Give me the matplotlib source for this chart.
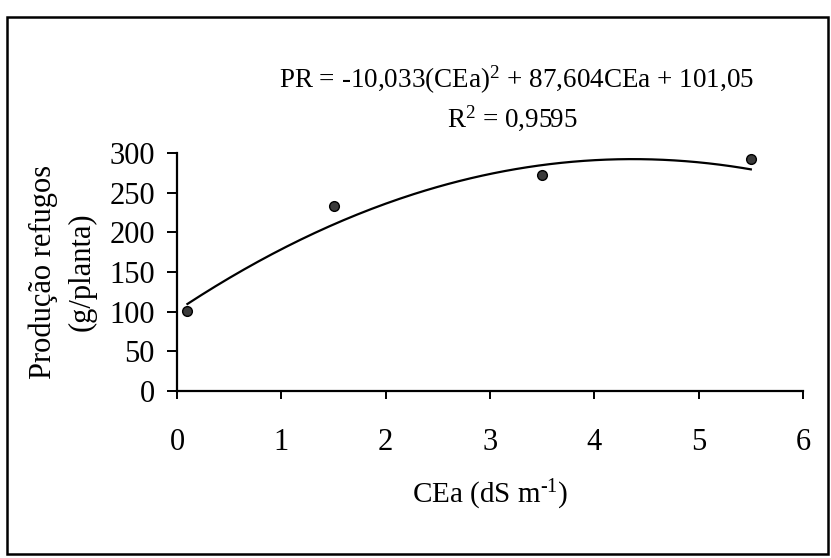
import numpy as np
import matplotlib
matplotlib.use("Agg")
import matplotlib.pyplot as plt
from matplotlib.patches import Rectangle

plt.rcParams["font.family"] = ["Liberation Serif", "DejaVu Serif"]
plt.rcParams["mathtext.fontset"] = "custom"
plt.rcParams["mathtext.rm"] = "Liberation Serif"
plt.rcParams["mathtext.it"] = "Liberation Serif:italic"

# Observed data
cea = [0.1, 1.5, 3.5, 5.5]
producao = [101, 233, 272, 292]

# Quadratic fit coefficients (a*x^2 + b*x + c)
coef_a, coef_b, coef_c = -10.033, 87.604, 101.05

x_ticks = [0, 1, 2, 3, 4, 5, 6]
y_ticks = [0, 50, 100, 150, 200, 250, 300]

fig = plt.figure(figsize=(8.31, 5.58), dpi=100)
fig.patch.set_facecolor("white")

# Outer frame around the whole figure
fig.patches.append(Rectangle((7 / 831, 4 / 558), 821 / 831, 537 / 558,
                             transform=fig.transFigure, fill=False,
                             edgecolor="black", linewidth=1.8))

ax = fig.add_axes([177 / 831, 1 - 391 / 558, 626 / 831, 238 / 558])

xs = np.linspace(min(cea), max(cea), 200)
ax.plot(xs, coef_a * xs**2 + coef_b * xs + coef_c, color="black", lw=1.6, zorder=2)
ax.plot(cea, producao, "o", ms=7, mfc="#3a3a3a", mec="black", mew=1.0, zorder=3)

ax.set_xlim(0, 6)
ax.set_ylim(0, 300)
ax.set_xticks(x_ticks)
ax.set_yticks(y_ticks)
ax.set_xticklabels([str(t) for t in x_ticks])
ax.set_yticklabels([str(t) for t in y_ticks])

for side in ("top", "right"):
    ax.spines[side].set_visible(False)
for side in ("left", "bottom"):
    ax.spines[side].set_linewidth(1.6)

ax.tick_params(axis="y", direction="out", length=7, width=1.4, pad=9, labelsize=22)
ax.tick_params(axis="x", direction="out", length=6, width=1.4, pad=21, labelsize=22)

ax.set_xlabel(r"CEa (dS m$^{\mathregular{‐1}}$)", fontsize=21, labelpad=15)
ax.set_ylabel("Produção refugos\n(g/planta)", fontsize=22, labelpad=9, linespacing=1.45)

fig.text(517 / 831, 1 - 80 / 558,
         r"PR = -10,033(CEa)$^{\mathregular{2}}$ + 87,604CEa + 101,05",
         ha="center", va="center", fontsize=19.5)
fig.text(512 / 831, 1 - 118 / 558, r"R$^{\mathregular{2}}$ = 0,9595",
         ha="center", va="center", fontsize=19.5)

fig.savefig("out.png", dpi=100, facecolor="white")
